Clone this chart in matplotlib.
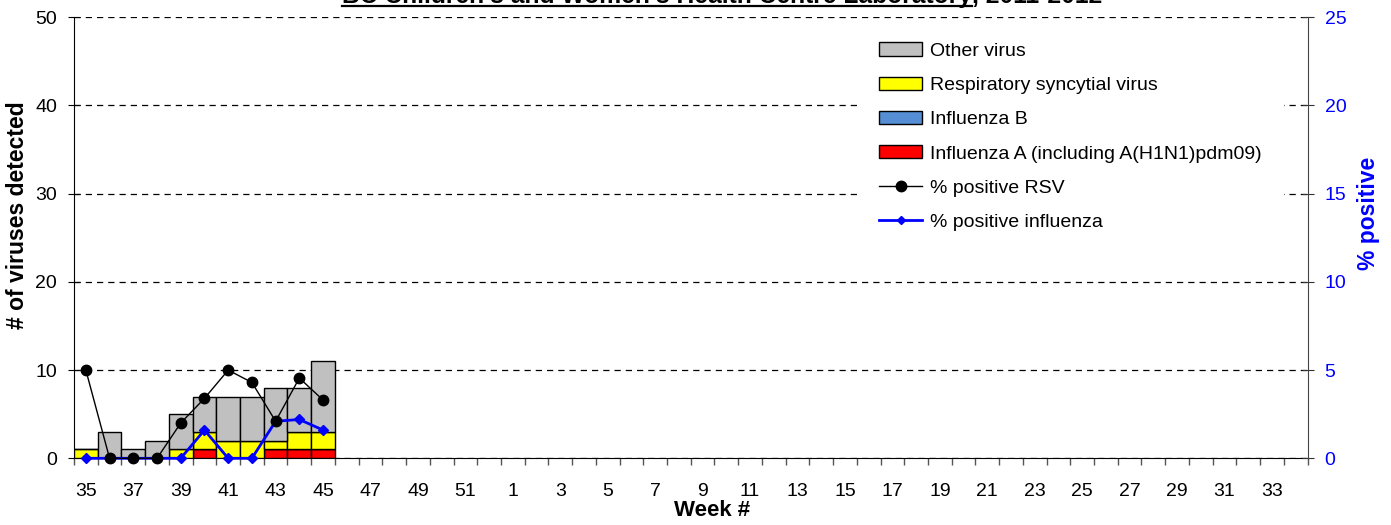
import matplotlib
matplotlib.use("Agg")
import matplotlib.pyplot as plt
from matplotlib.patches import Patch
from matplotlib.lines import Line2D
import numpy as np

plt.rcParams['font.family'] = ['Liberation Sans', 'DejaVu Sans']

# ---- data ----
weeks = [str(w) for w in list(range(35, 53)) + list(range(1, 35))]
data_weeks = ['35', '36', '37', '38', '39', '40', '41', '42', '43', '44', '45']
flu_a = [0, 0, 0, 0, 0, 1, 0, 0, 1, 1, 1]
flu_b = [0, 0, 0, 0, 0, 0, 0, 0, 0, 0, 0]
rsv = [1, 0, 0, 0, 1, 2, 2, 2, 1, 2, 2]
other = [0, 3, 1, 2, 4, 4, 5, 5, 6, 5, 8]
pct_rsv = [5.0, 0, 0, 0, 2.0, 3.4, 5.0, 4.3, 2.1, 4.55, 3.3]
pct_flu = [0, 0, 0, 0, 0, 1.6, 0, 0, 2.1, 2.2, 1.6]

W, H = 1391, 525
DPI = 100
fig = plt.figure(figsize=(W / DPI, H / DPI), dpi=DPI)
ax = fig.add_axes([74 / W, 1 - 458.3 / H, (1307.5 - 74) / W, (458.3 - 17.3) / H])
ax2 = ax.twinx()

x_all = np.arange(len(weeks))
xi = np.array([weeks.index(w) for w in data_weeks])

c_red, c_blue, c_yel, c_gray = '#FF0000', '#558ED5', '#FFFF00', '#C0C0C0'
edge = '#000000'
b0 = np.zeros(len(xi))
bars_kw = dict(width=1.0, edgecolor=edge, linewidth=1.0, zorder=3)
ax.bar(xi, flu_a, bottom=b0, color=c_red, **bars_kw)
b1 = b0 + np.array(flu_a)
ax.bar(xi, flu_b, bottom=b1, color=c_blue, **bars_kw)
b2 = b1 + np.array(flu_b)
ax.bar(xi, rsv, bottom=b2, color=c_yel, **bars_kw)
b3 = b2 + np.array(rsv)
ax.bar(xi, other, bottom=b3, color=c_gray, **bars_kw)

ax2.plot(xi, pct_flu, color='#0000FF', lw=2.0, marker='D', markersize=5,
         markeredgecolor='#0000FF', zorder=3, clip_on=False)
ax2.plot(xi, pct_rsv, color='black', lw=1.0, marker='o', markersize=7.5,
         zorder=4, clip_on=False)

ax.set_xlim(-0.5, len(weeks) - 0.5)
ax.set_ylim(0, 50)
ax2.set_ylim(0, 25)
ax.set_yticks(range(0, 51, 10))
ax2.set_yticks(range(0, 26, 5))

ax.yaxis.grid(True, linestyle=(0, (5, 4)), color='black', linewidth=0.9)
ax.set_axisbelow(True)

ax.set_xticks(x_all[::2])
ax.set_xticklabels(weeks[::2])
ax.set_xticks(np.arange(-0.5, len(weeks), 1.0), minor=True)
ax.tick_params(axis='x', which='major', length=0, pad=17.5, labelsize=14)
ax.tick_params(axis='x', which='minor', length=7 * 0.72, direction='out', width=1, color='#555555')
ax.tick_params(axis='y', direction='inout', length=12 * 0.72, pad=8, labelsize=14)
ax2.tick_params(axis='y', direction='inout', length=12 * 0.72, pad=8, labelsize=14,
                labelcolor='#0000FF', color='#333333')

for a in (ax, ax2):
    a.spines['top'].set_visible(False)
ax2.spines['left'].set_visible(False)
ax2.spines['bottom'].set_visible(False)
ax2.spines['right'].set_color('#444444')
ax.spines['right'].set_visible(False)

fig.text(18 / W, 1 - 215 / H, '# of viruses detected', rotation=90, ha='center', va='center',
         fontsize=16.5, fontweight='bold')
fig.text(1368 / W, 1 - 213 / H, '% positive', rotation=90, ha='center', va='center',
         fontsize=16.5, fontweight='bold', color='#0000FF')
fig.text(712 / W, 1 - 511 / H, 'Week #', ha='center', va='center',
         fontsize=16, fontweight='bold')

handles = [
    Patch(facecolor=c_gray, edgecolor='black', label='Other virus'),
    Patch(facecolor=c_yel, edgecolor='black', label='Respiratory syncytial virus'),
    Patch(facecolor=c_blue, edgecolor='black', label='Influenza B'),
    Patch(facecolor=c_red, edgecolor='black', label='Influenza A (including A(H1N1)pdm09)'),
    Line2D([], [], color='black', lw=1.0, marker='o', markersize=7.5, label='% positive RSV'),
    Line2D([], [], color='#0000FF', lw=2.0, marker='D', markersize=4, label='% positive influenza'),
]
leg = ax2.legend(handles=handles, loc='upper left',
                 bbox_to_anchor=(857 / W, 1 - 20 / H), bbox_transform=fig.transFigure,
                 borderaxespad=0, fontsize=14, frameon=True, fancybox=False,
                 handlelength=2.2, handleheight=0.68, handletextpad=0.42,
                 labelspacing=0.86, borderpad=1.15)
leg.get_frame().set_facecolor('white')
leg.get_frame().set_edgecolor('none')
leg.get_frame().set_alpha(1)

# title (partially cut off at the top edge)
t1 = fig.text(342 / W, 1 - 3 / H, "BC Children's and Women's Health Centre Laboratory",
              ha='left', va='baseline', fontsize=17.7, fontweight='bold')
fig.canvas.draw()
r = fig.canvas.get_renderer()
bb = t1.get_window_extent(r)
x_end = bb.x1 / W
fig.add_artist(Line2D([342 / W, x_end], [1 - 5.5 / H, 1 - 5.5 / H], color='black', lw=1.6,
                      transform=fig.transFigure))
fig.text(x_end, 1 - 3 / H, ", 2011-2012", ha='left', va='baseline', fontsize=17.7, fontweight='bold')

fig.savefig('out.png', dpi=DPI)
